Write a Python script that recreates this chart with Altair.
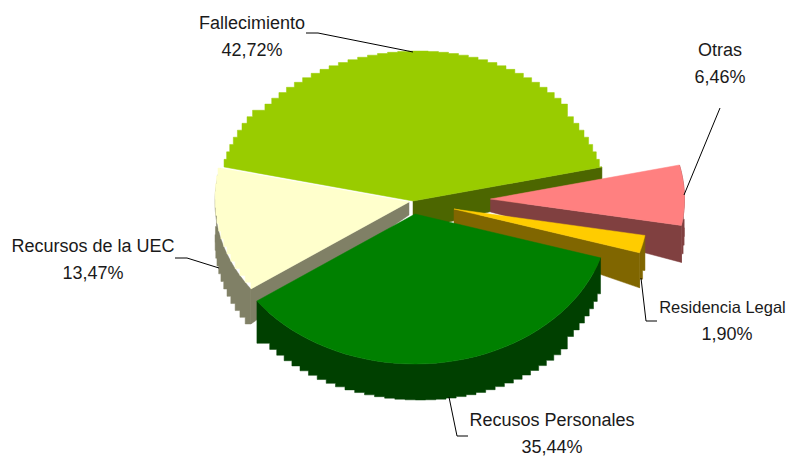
import numpy as np
import pandas as pd
import altair as alt

names = ["Fallecimiento", "Otras", "Residencia Legal", "Recusos Personales", "Recursos de la UEC"]
shares = [42.72, 6.46, 1.90, 35.44, 13.47]
top_colors = ["#99CC00", "#FF8080", "#FFCC00", "#008000", "#FFFFCC"]
side_colors = ["#4C6600", "#804040", "#806600", "#004000", "#808066"]

# pixel geometry of the tilted pie
RX, RY = 194.0, 150.0
apex = {0: (413, 201), 1: (490.5, 199), 2: (454, 209), 3: (415, 214), 4: (409, 202)}
depth_apex = {0: 30, 1: 13, 2: 15, 3: 36, 4: 13}
depth_rim = {0: 17, 1: 37, 2: 35, 3: 36, 4: 35}
label_pos = {0: (252, 24), 1: (720, 51), 2: (727, 308), 3: (552, 421), 4: (93, 247)}
leaders = {
    0: [(306, 33), (318, 33), (413, 52)],
    1: [(720, 108), (684, 195)],
    2: [(641, 278), (646, 321), (657, 321)],
    3: [(449, 397), (457, 436), (468, 436)],
    4: [(175, 258), (187, 258), (219, 268)],
}

X = alt.X("x:Q", scale=alt.Scale(domain=[8, 786], nice=False, zero=False), axis=None)
Y = alt.Y("y:Q", scale=alt.Scale(domain=[457, 8], nice=False, zero=False), axis=None)


def rim(i, t0, t1, dy=0.0, stair=False, step=3.0):
    ax, ay = apex[i]
    n = max(2, int(abs(t1 - t0) / step) + 1)
    ts = np.radians(np.linspace(t0, t1, n))
    pts = [(ax + RX * np.sin(t), ay - RY * np.cos(t) + dy) for t in ts]
    if not stair:
        if n < 30:
            ts = np.radians(np.linspace(t0, t1, 60))
            pts = [(ax + RX * np.sin(t), ay - RY * np.cos(t) + dy) for t in ts]
        return pts
    out = [pts[0]]
    for a, b in zip(pts[:-1], pts[1:]):
        out.append((b[0], a[1]) if abs(b[1] - a[1]) < abs(b[0] - a[0]) else (a[0], b[1]))
        out.append(b)
    return out


def poly(points, color):
    df = pd.DataFrame(
        [{"x": float(p[0]), "y": float(p[1]), "i": k} for k, p in enumerate(points + [points[0]])]
    )
    return (
        alt.Chart(df)
        .mark_line(fill=color, stroke=color, strokeWidth=0.5, interpolate="linear")
        .encode(x=X, y=Y, order=alt.Order("i:Q"))
    )


start = -shares[0] / 100 * 360 / 2
spans = []
t = start
for s in shares:
    spans.append((t, t + s / 100 * 360))
    t += s / 100 * 360


def cut_face(i, theta):
    ax, ay = apex[i]
    p = rim(i, theta, theta + 0.01)[0]
    return [(ax, ay), p, (p[0], p[1] + depth_rim[i]), (ax, ay + depth_apex[i])]


def outer_wall(i):
    t0, t1 = spans[i]
    d = depth_rim[i]
    return rim(i, t0, t1) + rim(i, t1, t0, dy=d, stair=True)


def top_face(i, stair):
    t0, t1 = spans[i]
    return [apex[i]] + rim(i, t0, t1, stair=stair)


layers = []
# Fallecimiento, back
layers.append(poly(cut_face(0, spans[0][1]), side_colors[0]))
layers.append(poly(top_face(0, True), top_colors[0]))
# Otras
layers.append(poly(outer_wall(1), side_colors[1]))
layers.append(poly(cut_face(1, spans[1][1]), side_colors[1]))
layers.append(poly(top_face(1, False), top_colors[1]))
# Residencia Legal
layers.append(poly(outer_wall(2), side_colors[2]))
layers.append(poly(cut_face(2, spans[2][1]), side_colors[2]))
layers.append(poly(top_face(2, False), top_colors[2]))
# Recursos de la UEC
layers.append(poly(outer_wall(4), side_colors[4]))
layers.append(poly(cut_face(4, spans[4][0]), side_colors[4]))
layers.append(poly(top_face(4, True), top_colors[4]))
# Recusos Personales, front
layers.append(poly(outer_wall(3), side_colors[3]))
layers.append(poly(top_face(3, False), top_colors[3]))

# leader lines
for i, pts in leaders.items():
    df = pd.DataFrame([{"x": p[0], "y": p[1], "i": k} for k, p in enumerate(pts)])
    layers.append(
        alt.Chart(df)
        .mark_line(color="#000000", strokeWidth=1)
        .encode(x=X, y=Y, order=alt.Order("i:Q"))
    )

# labels
rows = []
for i, n in enumerate(names):
    lx, ly = label_pos[i]
    fs = 16.5 if i == 2 else 18
    rows.append({"x": lx - (4.5 if i == 2 else 0), "y": ly, "t": n, "s": fs})
    rows.append({"x": lx, "y": ly + 26.5, "t": f"{shares[i]:.2f}%".replace(".", ","), "s": 18})
layers.append(
    alt.Chart(pd.DataFrame(rows))
    .mark_text(font="Liberation Sans", color="#1a1a1a", align="center", baseline="middle", clip=False)
    .encode(x=X, y=Y, text="t:N", size=alt.Size("s:Q", scale=None, legend=None))
)

chart = alt.layer(*layers).properties(
    width=778,
    height=449,
    padding=0,
    autosize=alt.AutoSizeParams(type="none"),
    background="#ffffff",
).configure_view(stroke=None)

chart.save("out.html", embed_options={"renderer": "svg", "actions": False})
